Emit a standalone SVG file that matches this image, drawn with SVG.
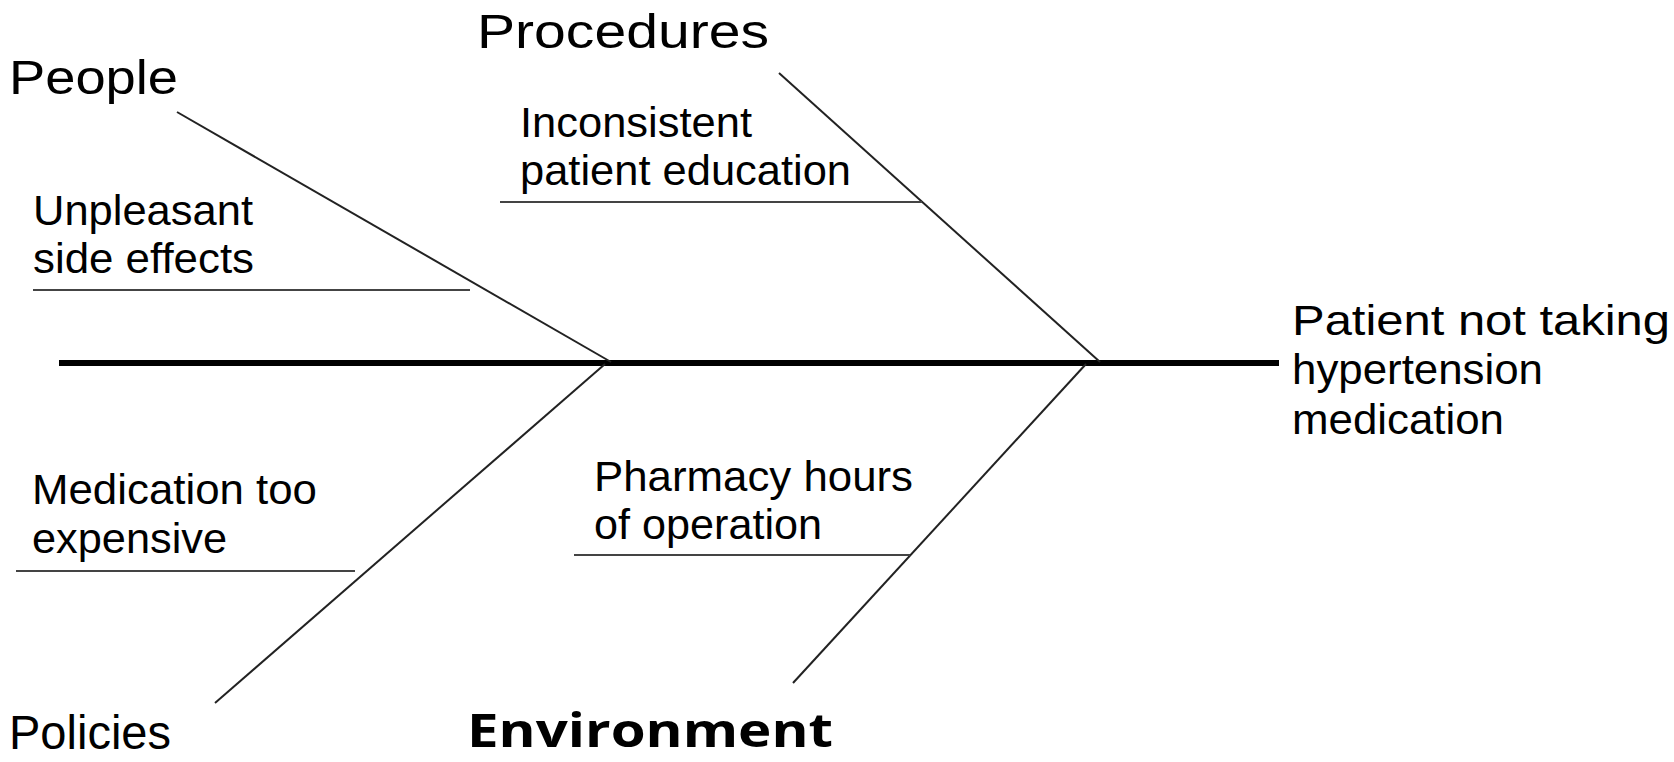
<svg xmlns="http://www.w3.org/2000/svg" width="1674" height="762" viewBox="0 0 1674 762">
<style>
.bg{fill:#ffffff}
.main{font-family:"Liberation Sans",Arial,sans-serif;font-size:48px;fill:#000}
.sub{font-family:"Liberation Sans",Arial,sans-serif;font-size:42px;fill:#000}
.env{font-family:"Open Sans","Noto Sans",sans-serif;font-weight:bold;font-size:46px;fill:#000}
.spine{stroke:#000;stroke-width:6;fill:none}
.bone{stroke:#222;stroke-width:2;fill:none}
.rib{stroke:#444;stroke-width:2;fill:none}
</style>
<rect class="bg" x="0" y="0" width="1674" height="762"/>
<g id="connectors">
<line class="spine" x1="59" y1="363" x2="1279" y2="363"/>
<line class="bone" x1="177" y1="112" x2="611" y2="362"/>
<line class="bone" x1="779" y1="73" x2="1100" y2="362"/>
<line class="bone" x1="215" y1="703" x2="605" y2="364"/>
<line class="bone" x1="793" y1="683" x2="1086" y2="364"/>
<line class="rib" x1="33" y1="290" x2="470" y2="290"/>
<line class="rib" x1="500" y1="202" x2="922" y2="202"/>
<line class="rib" x1="16" y1="571" x2="355" y2="571"/>
<line class="rib" x1="574" y1="555" x2="910" y2="555"/>
</g>
<g id="people"><text class="main" x="9" y="94" textLength="169" lengthAdjust="spacingAndGlyphs">People</text></g>
<g id="procedures"><text class="main" x="477" y="48" textLength="292" lengthAdjust="spacingAndGlyphs">Procedures</text></g>
<g id="policies"><text class="main" x="9" y="749" textLength="162" lengthAdjust="spacingAndGlyphs">Policies</text></g>
<g id="environment"><text class="env" x="467" y="747" textLength="366" lengthAdjust="spacingAndGlyphs">Environment</text></g>
<g id="unpleasant"><text class="sub" x="33" y="225" textLength="220" lengthAdjust="spacingAndGlyphs">Unpleasant</text><text class="sub" x="33" y="273" textLength="221" lengthAdjust="spacingAndGlyphs">side effects</text></g>
<g id="inconsistent"><text class="sub" x="520" y="137" textLength="232" lengthAdjust="spacingAndGlyphs">Inconsistent</text><text class="sub" x="520" y="185" textLength="331" lengthAdjust="spacingAndGlyphs">patient education</text></g>
<g id="medication"><text class="sub" x="32" y="504" textLength="285" lengthAdjust="spacingAndGlyphs">Medication too</text><text class="sub" x="32" y="553" textLength="195" lengthAdjust="spacingAndGlyphs">expensive</text></g>
<g id="pharmacy"><text class="sub" x="594" y="491" textLength="319" lengthAdjust="spacingAndGlyphs">Pharmacy hours</text><text class="sub" x="594" y="539" textLength="228" lengthAdjust="spacingAndGlyphs">of operation</text></g>
<g id="effect"><text class="sub" x="1292" y="335" textLength="378" lengthAdjust="spacingAndGlyphs">Patient not taking</text><text class="sub" x="1292" y="384" textLength="251" lengthAdjust="spacingAndGlyphs">hypertension</text><text class="sub" x="1292" y="434" textLength="212" lengthAdjust="spacingAndGlyphs">medication</text></g>
</svg>
